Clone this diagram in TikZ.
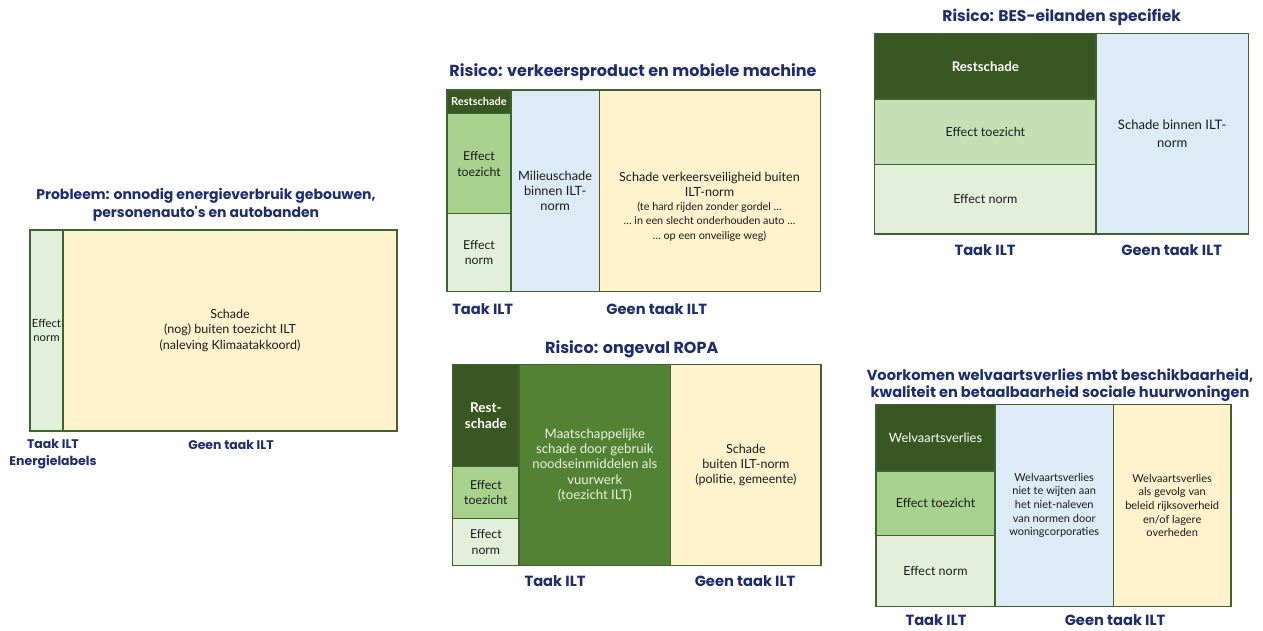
\documentclass[tikz,border=0pt]{standalone}
\usepackage{fontspec}
\setmainfont{Lato}
\newfontfamily\titlefam{Poppins}
\usetikzlibrary{fit}
\definecolor{bordergreen}{HTML}{3E6330}
\definecolor{darkgreen}{HTML}{385723}
\definecolor{midgreen}{HTML}{548235}
\definecolor{lightgreen}{HTML}{A9D18E}
\definecolor{palegreen}{HTML}{C5E0B4}
\definecolor{verylightgreen}{HTML}{E2EFDA}
\definecolor{paleblue}{HTML}{DDEBF7}
\definecolor{paleyellow}{HTML}{FFF2CC}
\definecolor{navy}{HTML}{1D2D6E}
\definecolor{bodytext}{HTML}{1A1A1A}
\definecolor{softwhite}{HTML}{E8F2E0}
\newcommand\fs[2]{\fontsize{#1}{#2}\selectfont}
\tikzset{
  cell/.style={draw=bordergreen, line width=1.1pt, inner sep=0pt},
  ctext/.style={align=center, text=bodytext, inner sep=0pt, font=\fs{12.5}{15.4}},
  ttl/.style={font=\titlefam\bfseries\fs{16}{17.3}, text=navy, align=center, inner sep=0pt, yshift=-1.7pt},
  lbl/.style={font=\titlefam\bfseries\fs{14.7}{17}, text=navy, align=center, inner sep=0pt, yshift=-1.3pt},
}
\begin{document}
\begin{tikzpicture}[x=1pt,y=-1pt]
\path[use as bounding box, fill=white] (0,0) rectangle (1263,630);

% ---------- Panel 1 ----------
\node[ttl, font=\titlefam\bfseries\fs{14}{17.3}] (t1) at (206,203) {Probleem: onnodig energieverbruik gebouwen,\\personenauto's en autobanden};
\node[cell, fill=verylightgreen, fit={(30,230) (63,431)},
  label={[ctext, font=\fs{11.3}{13.7}]center:{Effect\\norm}}] (p1a) {};
\node[cell, fill=paleyellow, fit={(63,230) (397,431)},
  label={[ctext, font=\fs{12.5}{15.5}]center:{Schade\\(nog) buiten toezicht ILT\\(naleving Klimaatakkoord)}}] (p1b) {};
\node[lbl, font=\titlefam\bfseries\fs{12.5}{17}] (l1a) at (53,452.5) {Taak ILT\\Energielabels};
\node[lbl, font=\titlefam\bfseries\fs{12.5}{17}] (l1b) at (231,444) {Geen taak ILT};

% ---------- Panel 2 ----------
\node[ttl] (t2) at (633,71) {Risico: verkeersproduct en mobiele machine};
\node[cell, fill=darkgreen, fit={(447,90) (511,113.7)},
  label={[ctext, text=white, font=\bfseries\fs{11}{12}]center:{Restschade}}] (p2a) {};
\node[cell, fill=lightgreen, fit={(447,113.7) (511,213.7)},
  label={[ctext, font=\fs{12.3}{15.7}]center:{Effect\\toezicht}}] (p2b) {};
\node[cell, fill=verylightgreen, fit={(447,213.7) (511,291.7)},
  label={[ctext, font=\fs{12.3}{15.4}]center:{Effect\\norm}}] (p2c) {};
\node[cell, fill=paleblue, fit={(511,90) (599.3,291.7)},
  label={[ctext, font=\fs{12.8}{15.3}]center:{Milieuschade\\binnen ILT-\\norm}}] (p2d) {};
\node[cell, fill=paleyellow, fit={(599.3,90) (820.3,291.7)}] (p2e) {};
\node[align=center, text=bodytext, inner sep=0pt, font=\fs{12.6}{15.3}, anchor=north] (p2etext) at (709.5,172)
  {Schade verkeersveiligheid buiten\\ILT-norm\\[-1.2pt]
   {\fs{10.8}{14.2}(te hard rijden zonder gordel \dots}\\[-1.2pt]
   {\fs{10.8}{14.2}\dots\ in een slecht onderhouden auto \dots}\\[-1.2pt]
   {\fs{10.8}{14.2}\dots\ op een onveilige weg)}};
\node[lbl] (l2a) at (482.7,307.7) {Taak ILT};
\node[lbl] (l2b) at (656.7,307.7) {Geen taak ILT};

% ---------- Panel 3 ----------
\node[ttl] (t3) at (631.7,347.7) {Risico: ongeval ROPA};
\node[cell, fill=darkgreen, fit={(452.7,364.3) (519,466.7)},
  label={[ctext, text=white, font=\bfseries\fs{13.5}{16}]center:{Rest-\\schade}}] (p3a) {};
\node[cell, fill=lightgreen, fit={(452.7,466.7) (519,518.7)},
  label={[ctext, font=\fs{12.3}{15}]center:{Effect\\toezicht}}] (p3b) {};
\node[cell, fill=verylightgreen, fit={(452.7,518.7) (519,565.7)},
  label={[ctext, font=\fs{12.3}{15.7}]center:{Effect\\norm}}] (p3c) {};
\node[cell, fill=midgreen, fit={(519,364.3) (670.7,565.7)},
  label={[ctext, text=softwhite, font=\fs{13.2}{15.4}]center:{Maatschappelijke\\schade door gebruik\\noodseinmiddelen als\\vuurwerk\\(toezicht ILT)}}] (p3d) {};
\node[cell, fill=paleyellow, fit={(670.7,364.3) (821,565.7)},
  label={[ctext]center:{Schade\\buiten ILT-norm\\(politie, gemeente)}}] (p3e) {};
\node[lbl] (l3a) at (555,580) {Taak ILT};
\node[lbl] (l3b) at (745,580) {Geen taak ILT};

% ---------- Panel 4 ----------
\node[ttl, font=\titlefam\bfseries\fs{15.5}{17}] (t4) at (1061.7,15.7) {Risico: BES-eilanden specifiek};
\node[cell, fill=darkgreen, fit={(874.7,33.3) (1096,99)},
  label={[ctext, text=white, font=\bfseries\fs{13.3}{16}]center:{Restschade}}] (p4a) {};
\node[cell, fill=palegreen, fit={(874.7,99) (1096,164.7)},
  label={[ctext]center:{Effect toezicht}}] (p4b) {};
\node[cell, fill=verylightgreen, fit={(874.7,164.7) (1096,234)},
  label={[ctext]center:{Effect norm}}] (p4c) {};
\node[cell, fill=paleblue, fit={(1096,33.3) (1248.3,234)},
  label={[ctext, font=\fs{13.1}{17.3}]center:{Schade binnen ILT-\\norm}}] (p4d) {};
\node[lbl] (l4a) at (985,249.3) {Taak ILT};
\node[lbl] (l4b) at (1171.7,249.3) {Geen taak ILT};

% ---------- Panel 5 ----------
\node[ttl, font=\titlefam\bfseries\fs{14.6}{17.3}] (t5) at (1060,383.6) {Voorkomen welvaartsverlies mbt beschikbaarheid,\\kwaliteit en betaalbaarheid sociale huurwoningen};
\node[cell, fill=darkgreen, fit={(876,404.3) (995,471)},
  label={[ctext, text=white, font=\fs{12.9}{14}]center:{Welvaartsverlies}}] (p5a) {};
\node[cell, fill=lightgreen, fit={(876,471) (995,535.7)},
  label={[ctext]center:{Effect toezicht}}] (p5b) {};
\node[cell, fill=verylightgreen, fit={(876,535.7) (995,606.7)},
  label={[ctext]center:{Effect norm}}] (p5c) {};
\node[cell, fill=paleblue, fit={(995,404.3) (1113.3,606.7)},
  label={[ctext, font=\fs{11}{13.7}]center:{Welvaartsverlies\\niet te wijten aan\\het niet-naleven\\van normen door\\woningcorporaties}}] (p5d) {};
\node[cell, fill=paleyellow, fit={(1113.3,404.3) (1231,606.7)},
  label={[ctext, font=\fs{11}{13.7}]center:{Welvaartsverlies\\als gevolg van\\beleid rijksoverheid\\en/of lagere\\overheden}}] (p5e) {};
\node[lbl] (l5a) at (936,619.3) {Taak ILT};
\node[lbl] (l5b) at (1115,619.3) {Geen taak ILT};
\end{tikzpicture}
\end{document}
